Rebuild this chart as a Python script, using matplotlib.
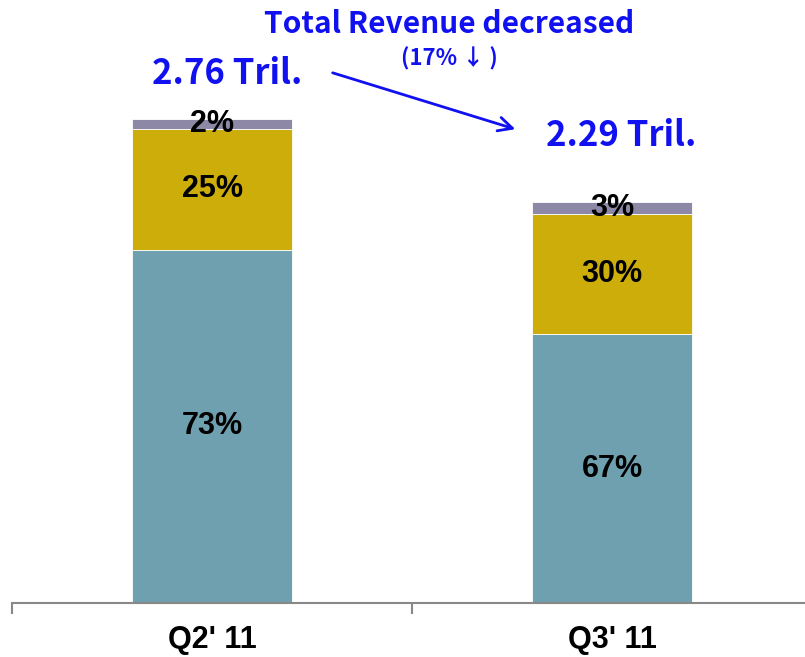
import numpy as np
import matplotlib.pyplot as plt

# Data
quarters = ["Q2' 11", "Q3' 11"]
totals = [2.76, 2.29]          # total revenue, trillion
share_bottom = [73, 67]        # teal segment (%)
share_middle = [25, 30]        # gold segment (%)
share_top = [2, 3]             # gray segment (%)
total_labels = ["2.76 Tril.", "2.29 Tril."]

teal = '#6FA0AF'
gold = '#CDAD0A'
gray = '#8C88A6'
blue = '#1010F0'

fig = plt.figure(figsize=(8.05, 6.57), dpi=100)
ax = fig.add_axes([12 / 805, 54 / 657, 800 / 805, 596 / 657])

x = np.arange(len(quarters))
tot = np.array(totals)
h1 = tot * np.array(share_bottom) / 100
h2 = tot * np.array(share_middle) / 100
h3 = tot * np.array(share_top) / 100

w = 0.4
ax.bar(x, h1, w, color=teal, edgecolor='white', linewidth=0.6)
ax.bar(x, h2, w, bottom=h1, color=gold, edgecolor='white', linewidth=0.6)
ax.bar(x, h3, w, bottom=h1 + h2, color=gray, edgecolor='white', linewidth=0.6)

lab = dict(ha='center', va='center', fontsize=22, fontweight='bold',
           family='Liberation Sans', color='black')
for i in range(len(x)):
    ax.text(x[i], h1[i] / 2, f'{share_bottom[i]}%', **lab)
    ax.text(x[i], h1[i] + h2[i] / 2, f'{share_middle[i]}%', **lab)
    ax.text(x[i], h1[i] + h2[i] + h3[i] / 2, f'{share_top[i]}%', **lab)

ax.set_xlim(-0.5, 1.5)
ax.set_ylim(0, 3.4)
ax.set_yticks([])
for s in ['top', 'right', 'left']:
    ax.spines[s].set_visible(False)
ax.spines['bottom'].set_color('#888888')
ax.spines['bottom'].set_linewidth(1.5)

ax.set_xticks(x)
ax.set_xticklabels(quarters, fontsize=22, fontweight='bold', family='Liberation Sans')
ax.tick_params(axis='x', which='major', length=0, pad=16)
ax.set_xticks([-0.5, 0.5, 1.5], minor=True)
ax.tick_params(axis='x', which='minor', length=8, width=1.5, color='#888888', direction='out')

# Blue annotations
bfont = ['Noto Sans CJK KR', 'DejaVu Sans']
fig.text(449 / 805, 1 - 24 / 657, 'Total Revenue decreased', ha='center', va='center',
         fontsize=21.5, fontweight='bold', color=blue, family=bfont)
fig.text(449 / 805, 1 - 59 / 657, '(17% ↓ )', ha='center', va='center',
         fontsize=16, fontweight='bold', color=blue, family=bfont)
fig.text(227 / 805, 1 - 74 / 657, total_labels[0], ha='center', va='center',
         fontsize=25, fontweight='bold', color=blue, family=bfont)
fig.text(621 / 805, 1 - 135 / 657, total_labels[1], ha='center', va='center',
         fontsize=25, fontweight='bold', color=blue, family=bfont)
ax.annotate('', xy=(518 / 805, 1 - 130 / 657), xytext=(330 / 805, 1 - 72 / 657),
            xycoords='figure fraction', textcoords='figure fraction',
            arrowprops=dict(arrowstyle='->', color=blue, lw=2, mutation_scale=25))

fig.savefig('out.png', dpi=100)
